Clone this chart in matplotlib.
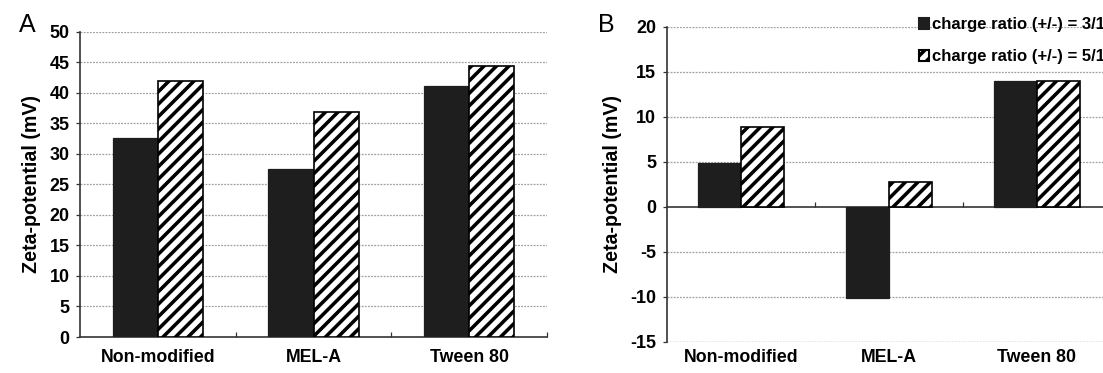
import matplotlib
matplotlib.use("Agg")
import matplotlib.pyplot as plt
import matplotlib.transforms as mtransforms
from matplotlib.patches import Patch

# data
categories = ["Non-modified", "MEL-A", "Tween 80"]
series_labels = ["charge ratio (+/-) = 3/1", "charge ratio (+/-) = 5/1"]
zeta_a_31 = [32.6, 27.5, 41.1]
zeta_a_51 = [42.0, 36.8, 44.4]
zeta_b_31 = [4.8, -10.1, 14.0]
zeta_b_51 = [8.8, 2.7, 14.0]

DPI = 150
W, H = 1103, 373
plt.rcParams["font.family"] = ["Liberation Sans", "DejaVu Sans"]
plt.rcParams["hatch.linewidth"] = 1.7
plt.rcParams["hatch.color"] = "black"

DARK = "#1e1e1e"
GRID = "#a0a0a0"
BAR_W = 0.29
LABEL_Y = 1 - 358 / H  # category labels, figure fraction


def px(x0, y0, x1, y1):
    # pixel box (left, top, right, bottom) -> figure fraction rect
    return [x0 / W, 1 - y1 / H, (x1 - x0) / W, (y1 - y0) / H]


def draw_panel(ax, vals31, vals51, ylim, yticks, zero_axis):
    xs = range(len(categories))
    ax.bar([x - BAR_W / 2 for x in xs], vals31, BAR_W, color=DARK,
           edgecolor=DARK, linewidth=0.6, zorder=3)
    ax.bar([x + BAR_W / 2 for x in xs], vals51, BAR_W, color="white",
           edgecolor="black", hatch="////", linewidth=0.8, zorder=3)
    ax.set_xlim(-0.5, len(categories) - 0.5)
    ax.set_ylim(*ylim)
    ax.set_yticks(yticks)
    ax.set_yticklabels([str(t) for t in yticks], fontsize=8.6, fontweight="bold")
    ax.tick_params(axis="y", direction="out", length=2, width=0.6, pad=3,
                   colors="#333333", labelcolor="black")
    # gridlines
    for t in yticks:
        if t != 0:
            ax.axhline(t, color=GRID, lw=0.6, ls=(0, (1.5, 1)), zorder=1)
    for s in ["top", "right"]:
        ax.spines[s].set_visible(False)
    ax.spines["left"].set_color("#333333")
    ax.spines["left"].set_linewidth(0.8)
    ax.spines["bottom"].set_color("#333333")
    ax.spines["bottom"].set_linewidth(0.8)
    if zero_axis:
        ax.spines["bottom"].set_position(("data", 0))
    ax.set_xticks([0.5, 1.5, 2.5])
    ax.set_xticklabels([])
    ax.tick_params(axis="x", direction="in", length=2.5, width=0.6,
                   colors="#333333")
    trans = mtransforms.blended_transform_factory(ax.transData, fig.transFigure)
    for x, name in zip(xs, categories):
        ax.text(x, LABEL_Y, name, transform=trans, ha="center", va="center",
                fontsize=8.5, fontweight="bold")
    ax.set_ylabel("Zeta-potential (mV)", fontsize=9.4, fontweight="bold",
                  labelpad=4)


fig = plt.figure(figsize=(W / DPI, H / DPI), dpi=DPI)
ax_a = fig.add_axes(px(80, 31.7, 547, 337))
ax_b = fig.add_axes(px(666.7, 26.7, 1110.7, 341.7))

draw_panel(ax_a, zeta_a_31, zeta_a_51, (0, 50), list(range(0, 51, 5)), False)
draw_panel(ax_b, zeta_b_31, zeta_b_51, (-15, 20), list(range(-15, 21, 5)), True)
ax_b.axhline(-15, color=GRID, lw=0.6, ls=(0, (1.5, 1)), zorder=1)

fig.text(27 / W, 1 - 25 / H, "A", fontsize=12, ha="center", va="center")
fig.text(606 / W, 1 - 25 / H, "B", fontsize=12, ha="center", va="center")

handles = [Patch(facecolor=DARK, edgecolor=DARK),
           Patch(facecolor="white", edgecolor="black", hatch="////")]
leg = fig.legend(handles, series_labels, loc="upper left",
                 bbox_to_anchor=(911.7 / W, 1 - 10 / H), frameon=True,
                 fancybox=False, framealpha=0, edgecolor="#444444",
                 prop={"size": 8.0, "weight": "bold"}, handlelength=0.6,
                 handleheight=0.6, handletextpad=0.15, labelspacing=1.0,
                 borderpad=0.45, borderaxespad=0)
leg.get_frame().set_linewidth(0.6)

fig.savefig("out.png", dpi=DPI)
